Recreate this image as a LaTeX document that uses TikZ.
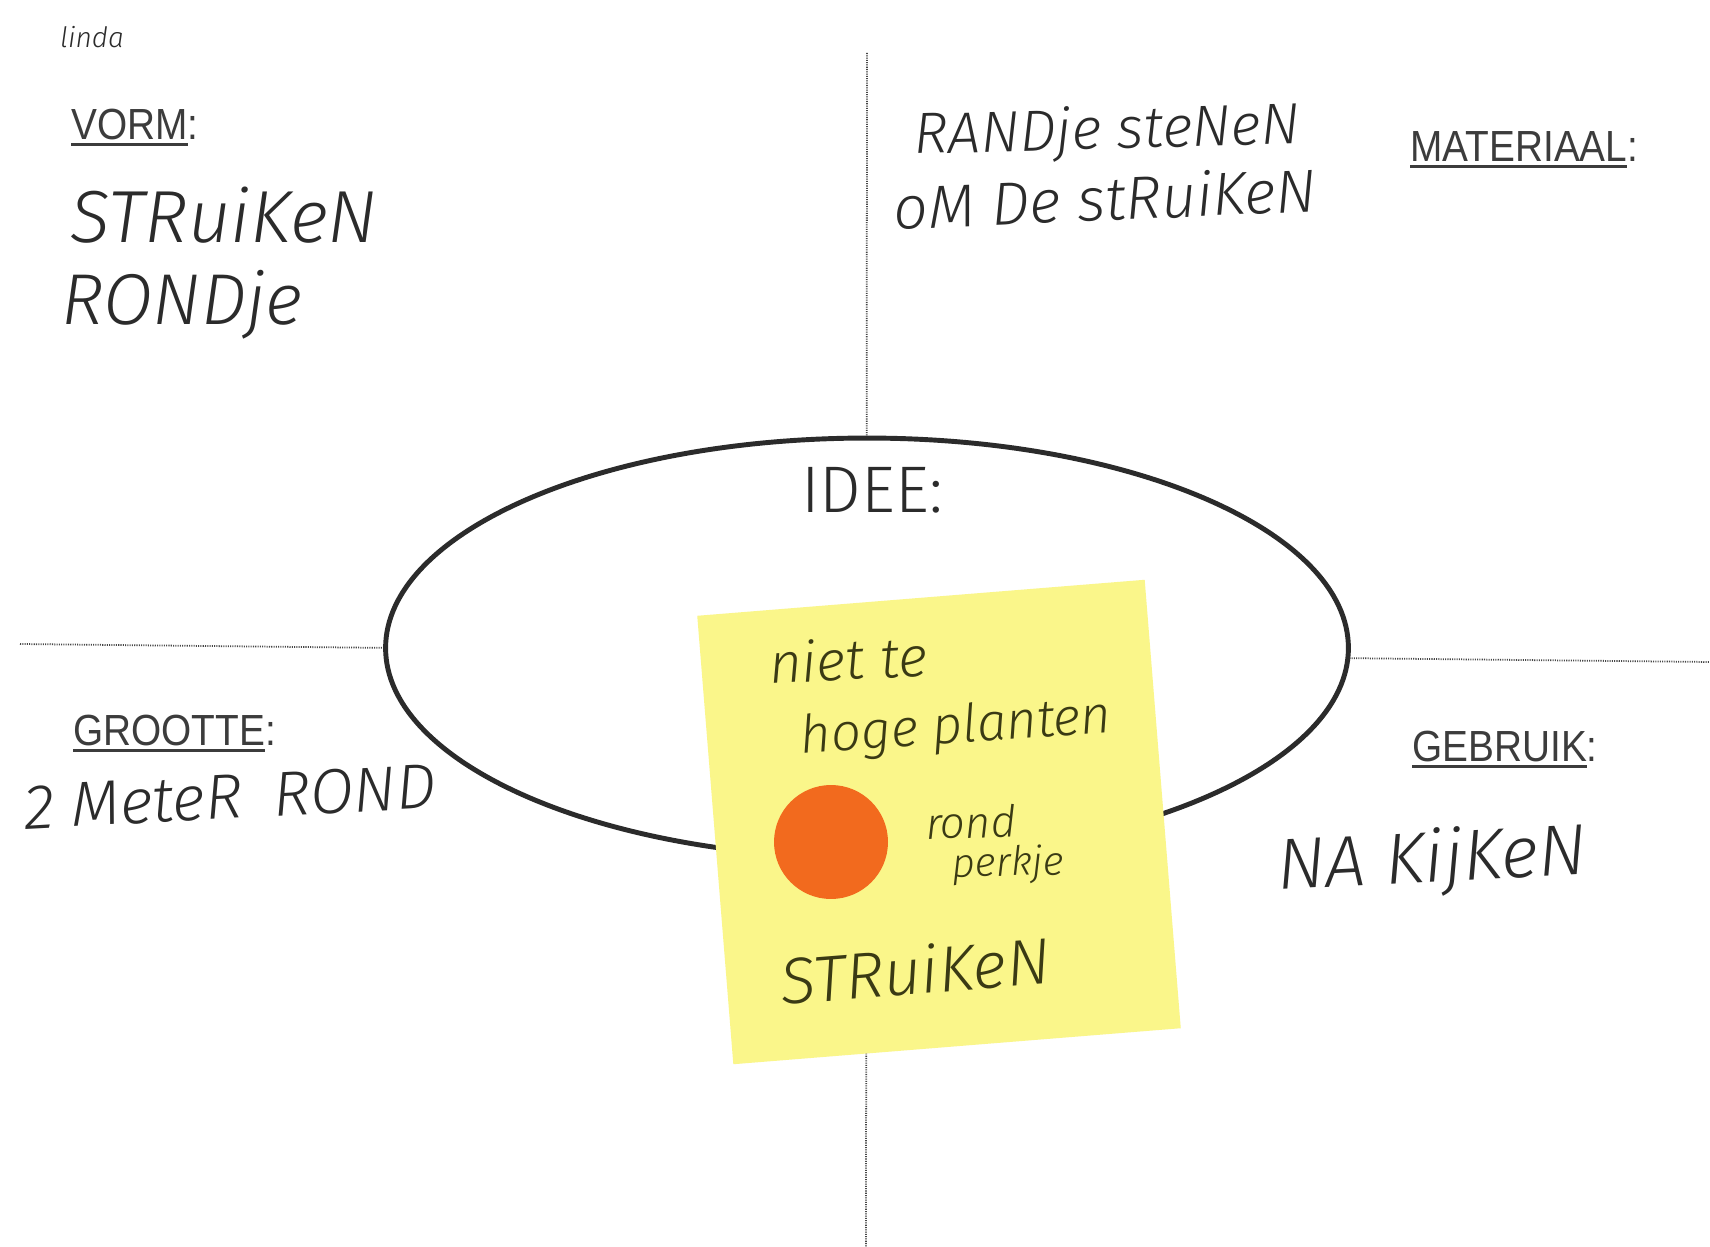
\documentclass[tikz,border=0pt]{standalone}
\usepackage{fontspec}
\usetikzlibrary{shapes.geometric}
\newfontfamily\lab{Liberation Sans}[FakeStretch=0.89]
\newfontfamily\lite{Fira Sans Light}
\newfontfamily\hand{Fira Sans Light Italic}
\definecolor{ink}{HTML}{2B2B2B}
\definecolor{labink}{HTML}{3C3C3C}
\definecolor{stickyink}{HTML}{3A3A14}
\definecolor{sticky}{HTML}{FAF68A}
\definecolor{dotorange}{HTML}{F26A1E}
\newcommand\fsz[1]{\fontsize{#1pt}{#1pt}\selectfont}
\newcommand\ulab[1]{\setbox0=\hbox{#1}\rlap{\rule[-0.17em]{\wd0}{0.07em}}\box0}
\begin{document}
\begin{tikzpicture}[x=0.02cm,y=-0.02cm,
  printlab/.style={font=\lab\fsz{24.8}, text=labink, inner sep=0, anchor=base west},
  hw/.style={font=\hand, text=ink, inner sep=0},
  sw/.style={font=\hand, text=stickyink, inner sep=0},
  dotline/.style={draw=gray!55!black, line width=1pt, dash pattern=on 0.6pt off 0.7pt}]
\path[use as bounding box, fill=white] (0,0) rectangle (1710,1247);
% grid lines
\coordinate (vtop) at (867,53);
\coordinate (vbot) at (866,1247);
\coordinate (hl) at (20,644);
\coordinate (hr) at (1710,662);
\draw[dotline] (vtop) -- (vbot);
\draw[dotline] (hl) -- (hr);
% central ellipse
\node[ellipse, draw=ink, line width=2.8pt, fill=white, minimum width=19.26cm, minimum height=8.4cm, inner sep=0] (idee) at (867,648) {};
\node[font=\lite\fsz{37.5}, text=ink, inner sep=0] (ideetxt) at (872,490) {IDEE:};
% printed labels
\node[printlab] (vorm) at (71,139) {\ulab{VORM}:};
\node[printlab] (mat) at (1410,161) {\ulab{MATERIAAL}:};
\node[printlab] (groot) at (73,745) {\ulab{GROOTTE}:};
\node[printlab] (gebr) at (1412,761) {\ulab{GEBRUIK}:};
% handwriting on the sheet
\node[hw, font=\hand\fsz{16}] (linda) at (92,37) {linda};
\node[hw, font=\hand\fsz{42}] (vorm1) at (224,215) {STRuiKeN};
\node[hw, font=\hand\fsz{41}] (vorm2) at (182,305) {RONDje};
\node[hw, font=\hand\fsz{33}, rotate=1.5] (mat1) at (1107,133) {RANDje steNeN};
\node[hw, font=\hand\fsz{34.5}, rotate=2.5] (mat2) at (1105,198) {oM De stRuiKeN};
\node[hw, font=\hand\fsz{36}, rotate=3] (groot1) at (230,797) {2 MeteR\enspace ROND};
\node[hw, font=\hand\fsz{41}, rotate=3] (gebr1) at (1432,862) {NA KijKeN};
% sticky note
\node[fill=sticky, rotate=4.6, minimum width=8.98cm, minimum height=9.0cm, inner sep=0] (note) at (939,822) {};
\node[circle, fill=dotorange, minimum size=2.28cm, inner sep=0] (dot) at (831,842) {};
\node[sw, font=\hand\fsz{32}, rotate=3] (n1) at (848,659) {niet te};
\node[sw, font=\hand\fsz{30}, rotate=4] (n2) at (956,729) {hoge planten};
\node[sw, font=\hand\fsz{25}, rotate=1.5] (n3) at (971,822) {rond};
\node[sw, font=\hand\fsz{23}, rotate=1.5] (n4) at (1008,865) {perkje};
\node[sw, font=\hand\fsz{37}, rotate=4.5] (n5) at (915,970) {STRuiKeN};
\end{tikzpicture}
\end{document}
